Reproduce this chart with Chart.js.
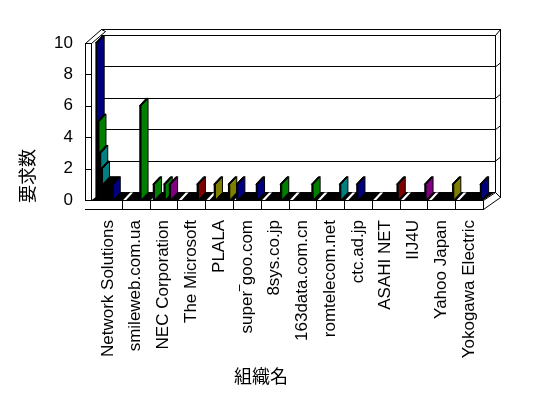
<!DOCTYPE html>
<html>
<head>
<meta charset="utf-8">
<script src="https://cdn.jsdelivr.net/npm/chart.js@4/dist/chart.umd.min.js"></script>
<style>
  html, body { margin: 0; padding: 0; background: #fff; }
  canvas { display: block; }
</style>
</head>
<body>
<canvas id="chart" width="548" height="398"></canvas>
<script>
// Organisations on the category axis
const organizations = [
  'Network Solutions', 'smileweb.com.ua', 'NEC Corporation', 'The Microsoft',
  'PLALA', 'super‾goo.com', '8sys.co.jp', '163data.com.cn', 'romtelecom.net',
  'ctc.ad.jp', 'ASAHI NET', 'IIJ4U', 'Yahoo Japan', 'Yokogawa Electric'
];

// Request counts, one array per series (one value per organisation)
const series01 = [10, 0, 0, 0, 0, 0, 0, 0, 0, 0, 0, 0, 0, 0];
const series02 = [5, 0, 1, 0, 0, 1, 0, 0, 0, 0, 0, 0, 0, 0];
const series03 = [3, 0, 0, 0, 0, 0, 0, 0, 0, 0, 0, 0, 0, 0];
const series04 = [2, 0, 0, 0, 0, 0, 0, 0, 0, 0, 0, 0, 0, 0];
const series05 = [1, 0, 0, 0, 1, 0, 0, 0, 0, 0, 0, 0, 0, 0];
const series06 = [1, 0, 0, 0, 0, 0, 0, 0, 0, 0, 0, 0, 0, 0];
const series07 = [1, 0, 0, 0, 0, 0, 0, 0, 0, 1, 0, 0, 0, 0];
const series08 = [1, 0, 1, 0, 0, 0, 0, 0, 0, 0, 0, 0, 0, 0];
const series09 = [1, 0, 0, 0, 0, 0, 0, 0, 0, 0, 0, 0, 0, 0];
const series10 = [1, 6, 0, 0, 0, 0, 0, 0, 0, 0, 0, 0, 0, 0];
const series11 = [0, 0, 1, 1, 0, 0, 1, 0, 0, 0, 0, 0, 0, 0];
const series12 = [0, 0, 0, 0, 0, 0, 0, 0, 0, 0, 0, 0, 0, 0];
const series13 = [0, 0, 0, 0, 1, 1, 0, 1, 1, 0, 0, 0, 0, 0];
const series14 = [0, 0, 0, 0, 0, 0, 0, 0, 0, 0, 1, 1, 1, 1];

// Y axis tick values
const yTicks = [0, 2, 4, 6, 8, 10];

// Colour keys per series, one letter per organisation
const palette = {
  K: '#000000', T: '#008080', G: '#008000', N: '#000080',
  R: '#800000', O: '#808000', P: '#800080'
};
const seriesColors = [
  'N.............',
  'G.G..N........',
  'T.............',
  'T.............',
  'K...O.........',
  'K.............',
  'K........N....',
  'K.G...........',
  'K.............',
  'NG............',
  '..PR..G.......',
  '..............',
  '....ON.GT.....',
  '..........RPON'
];

const allSeries = [series01, series02, series03, series04, series05, series06, series07,
  series08, series09, series10, series11, series12, series13, series14];

const WALL = { dx: 12, dy: -8 };   // depth of the back wall
const BAR = { dx: 7, dy: -7.5 };   // depth of each bar

function px(v) { return Math.round(v) + 0.5; }
function seg(ctx, x1, y1, x2, y2) {
  ctx.beginPath(); ctx.moveTo(x1, y1); ctx.lineTo(x2, y2); ctx.stroke();
}
function hline(ctx, x1, x2, y) { seg(ctx, Math.round(x1), px(y), Math.round(x2) + 1, px(y)); }
function vline(ctx, x, y1, y2) { seg(ctx, px(x), Math.round(y1), px(x), Math.round(y2) + 1); }
function poly(ctx, pts, fill, stroke) {
  ctx.beginPath();
  ctx.moveTo(pts[0][0], pts[0][1]);
  for (let i = 1; i < pts.length; i++) ctx.lineTo(pts[i][0], pts[i][1]);
  ctx.closePath();
  if (fill) { ctx.fillStyle = fill; ctx.fill(); }
  if (stroke) { ctx.strokeStyle = stroke; ctx.lineWidth = 1; ctx.stroke(); }
}

// Box, walls, floor and base of the 3D plot
const frame3d = {
  id: 'frame3d',
  beforeDatasetsDraw(chart) {
    const { ctx, chartArea: a, scales: { x: xs, y: ys } } = chart;
    const y0 = ys.getPixelForValue(0);
    const yMax = ys.getPixelForValue(ys.max);
    const fl = a.left - 9, fi = a.left - 3;
    const bl = fl + WALL.dx, br = a.right + WALL.dx;
    ctx.save();
    ctx.strokeStyle = '#000';
    ctx.lineWidth = 1;

    // back wall grid lines and right wall notches
    yTicks.forEach(v => {
      const gy = ys.getPixelForValue(v) + WALL.dy;
      hline(ctx, bl, br, gy);
      if (v > 0 && v < ys.max) seg(ctx, br + 0.5, gy + 0.5, br + 5.5, gy - 3.5);
    });
    hline(ctx, fl + 16, br + 5, yMax - 14);
    vline(ctx, br, yMax + WALL.dy, y0 + WALL.dy);
    vline(ctx, br + 5, yMax - 14, y0 - 3);
    seg(ctx, br + 0.5, yMax + WALL.dy + 0.5, br + 5.5, yMax - 13.5);

    // left wall slab
    poly(ctx, [[fl + 0.5, yMax + 0.5], [fi + 0.5, yMax + 0.5], [fi + 14.5, yMax - 11.5], [fl + 16.5, yMax - 13.5]], '#fff', '#000');
    vline(ctx, fl, yMax, y0 + 9);
    vline(ctx, fi, yMax, y0);
    yTicks.forEach(v => hline(ctx, fl, fi, ys.getPixelForValue(v)));

    // floor
    poly(ctx, [[fi, y0 + 0.5], [a.right, y0 + 0.5], [br, y0 + WALL.dy], [fi + WALL.dx, y0 + WALL.dy]], '#000');

    // base slab with category dividers
    ctx.fillStyle = '#fff';
    ctx.fillRect(fl, y0, a.right - fl, 9);
    hline(ctx, fl, a.right, y0);
    hline(ctx, fl, a.right, y0 + 9);
    vline(ctx, a.right, y0, y0 + 9);
    for (let i = 1; i < organizations.length; i++) {
      const bx = (xs.getPixelForTick(i - 1) + xs.getPixelForTick(i)) / 2;
      vline(ctx, bx, y0, y0 + 9);
    }
    poly(ctx, [[a.right + 0.5, y0 + 0.5], [br + 0.5, y0 + WALL.dy + 0.5], [br + 5.5, y0 - 2.5], [a.right + 0.5, y0 + 9.5]], '#fff', '#000');

    // tops of empty bars of the first series
    const meta = chart.getDatasetMeta(0);
    meta.data.forEach((el, i) => {
      if (allSeries[0][i] !== 0) return;
      const p = el.getProps(['x', 'base', 'width'], true);
      const x0 = p.x - p.width / 2;
      const w = p.width + 1.2;
      poly(ctx, [[x0, y0], [x0 + w, y0], [x0 + w + BAR.dx, y0 + BAR.dy], [x0 + BAR.dx, y0 + BAR.dy]], '#fff');
    });
    ctx.restore();
  },

  // bars drawn as thin 3D slabs, tallest first
  afterDatasetsDraw(chart) {
    const { ctx } = chart;
    const bars = [];
    chart.data.datasets.forEach((ds, di) => {
      chart.getDatasetMeta(di).data.forEach((el, i) => {
        const v = ds.data[i];
        if (!v) return;
        const p = el.getProps(['x', 'y', 'base', 'width'], true);
        bars.push({ v, p, color: palette[seriesColors[di][i]] || '#000' });
      });
    });
    bars.sort((a, b) => (b.v - a.v) || (a.p.x - b.p.x));
    ctx.save();
    bars.forEach(({ p, color }) => {
      const x0 = p.x - p.width / 2, w = p.width, top = p.y, bot = p.base;
      poly(ctx, [[x0 + w, top], [x0 + w + BAR.dx, top + BAR.dy], [x0 + w + BAR.dx, bot + BAR.dy], [x0 + w, bot]], color, '#000');
      ctx.fillStyle = '#000';
      ctx.fillRect(x0, top, w, bot - top);
      poly(ctx, [[x0, top], [x0 + w, top], [x0 + w + BAR.dx, top + BAR.dy], [x0 + BAR.dx, top + BAR.dy]], '#000', '#000');
    });
    ctx.restore();
  },

  // axis titles
  afterDraw(chart) {
    const { ctx } = chart;
    ctx.save();
    ctx.fillStyle = '#000';
    ctx.font = '18px "Noto Sans CJK JP", sans-serif';
    ctx.textAlign = 'center';
    ctx.textBaseline = 'middle';
    ctx.fillText('組織名', 261, 376);
    ctx.translate(27, 176);
    ctx.rotate(-Math.PI / 2);
    ctx.fillText('要求数', 0, 0);
    ctx.restore();
  }
};

Chart.defaults.font.family = "'Liberation Sans', Arial, sans-serif";
Chart.defaults.color = '#000';

new Chart(document.getElementById('chart'), {
  type: 'bar',
  data: {
    labels: organizations,
    datasets: allSeries.map((d, i) => ({
      label: '系列' + (i + 1),
      data: d,
      backgroundColor: 'rgba(0,0,0,0)',
      borderWidth: 0
    }))
  },
  options: {
    responsive: false,
    animation: false,
    devicePixelRatio: 1,
    layout: { padding: { left: 0, top: 43, right: 65, bottom: 0 } },
    datasets: { bar: { categoryPercentage: 0.9, barPercentage: 1.0 } },
    plugins: { legend: { display: false }, tooltip: { enabled: false } },
    scales: {
      x: {
        grid: { display: false, drawTicks: false },
        border: { display: false },
        ticks: { autoSkip: false, minRotation: 90, maxRotation: 90, padding: 20, font: { size: 17 } },
        afterFit(s) { s.height = 198; }
      },
      y: {
        min: 0, max: 10,
        grid: { display: false, drawTicks: false },
        border: { display: false },
        ticks: { stepSize: 2, padding: 21, font: { size: 17 } },
        afterFit(s) { s.width = 94; }
      }
    }
  },
  plugins: [frame3d]
});
</script>
</body>
</html>
